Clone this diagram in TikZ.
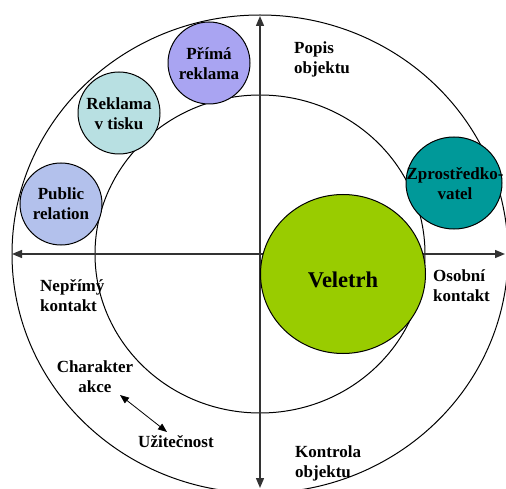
\documentclass[tikz,border=0pt]{standalone}
\usepackage{fontspec}
\setmainfont{Liberation Serif}
\usetikzlibrary{shapes.geometric,arrows.meta}
\definecolor{cprima}{HTML}{A9A4F2}
\definecolor{ctisk}{HTML}{B8E0E2}
\definecolor{cpublic}{HTML}{B3C1EC}
\definecolor{czpr}{HTML}{009999}
\definecolor{cvel}{HTML}{99CC00}
\begin{document}
\begin{tikzpicture}[x=1pt,y=-1pt,
  lbl/.style={font=\bfseries\fontsize{17}{20}\selectfont, inner sep=0pt},
  bubtext/.style={lbl, align=center},
  bub/.style={ellipse, draw=black, line width=1pt, inner sep=0pt},
  axisline/.style={draw=black!80, line width=1.4pt,
              {Triangle[length=10pt,width=8pt]}-{Triangle[length=10pt,width=8pt]}},
  ring/.style={draw=black, line width=1pt}]
\useasboundingbox (0,0) rectangle (506,489);
\clip (0,0) rectangle (506,489);
% rings
\draw[ring] (260,254) ellipse [x radius=248pt, y radius=239pt];
\draw[ring] (260,254) ellipse [x radius=165pt, y radius=159pt];
% axes
\coordinate (L) at (12,254);
\coordinate (R) at (505,254);
\coordinate (T) at (260,16);
\coordinate (B) at (260,488);
\draw[axisline] (L) -- (R);
\draw[axisline] (T) -- (B);
% bubbles
\node[bub, fill=cvel, minimum width=165pt, minimum height=159pt] (veletrh) at (343,274) {};
\node[font=\bfseries\fontsize{22.5}{26}\selectfont, inner sep=0pt] (veltext) at (343,280) {Veletrh};
\node[bub, fill=cprima, minimum width=82pt, minimum height=82pt] (prima) at (209,63) {};
\node[bubtext] (primatext) at (209,64) {Přímá\\reklama};
\node[bub, fill=ctisk, minimum width=82pt, minimum height=82pt] (tisk) at (119,113) {};
\node[bubtext] (tisktext) at (119,114) {Reklama\\v tisku};
\node[bub, fill=cpublic, minimum width=82pt, minimum height=82pt] (public) at (61,204) {};
\node[bubtext] (publictext) at (61,204) {Public\\relation};
\node[bub, fill=czpr, minimum width=96pt, minimum height=92pt] (zpr) at (454,183) {};
\node[bubtext] (zprtext) at (455,184) {Zprostředko-\\vatel};
% labels
\node[lbl, align=left, anchor=west] (popis) at (294,59) {Popis\\objektu};
\node[lbl, align=left, anchor=west] (neprimy) at (40,296) {Nepřímý\\kontakt};
\node[lbl, align=left, anchor=west] (osobni) at (433,286) {Osobní\\kontakt};
\node[lbl, align=center] (charakter) at (95,377) {Charakter\\akce};
\node[lbl, anchor=base] (uzitecnost) at (176,447) {Užitečnost};
\node[lbl, align=left, anchor=west] (kontrola) at (295,463) {Kontrola\\objektu};
% double arrow
\coordinate (c1) at (120,395);
\coordinate (c2) at (167,432);
\draw[line width=0.8pt, {Triangle[length=9pt,width=7pt]}-{Triangle[length=9pt,width=7pt]}] (c1) -- (c2);
\end{tikzpicture}
\end{document}
